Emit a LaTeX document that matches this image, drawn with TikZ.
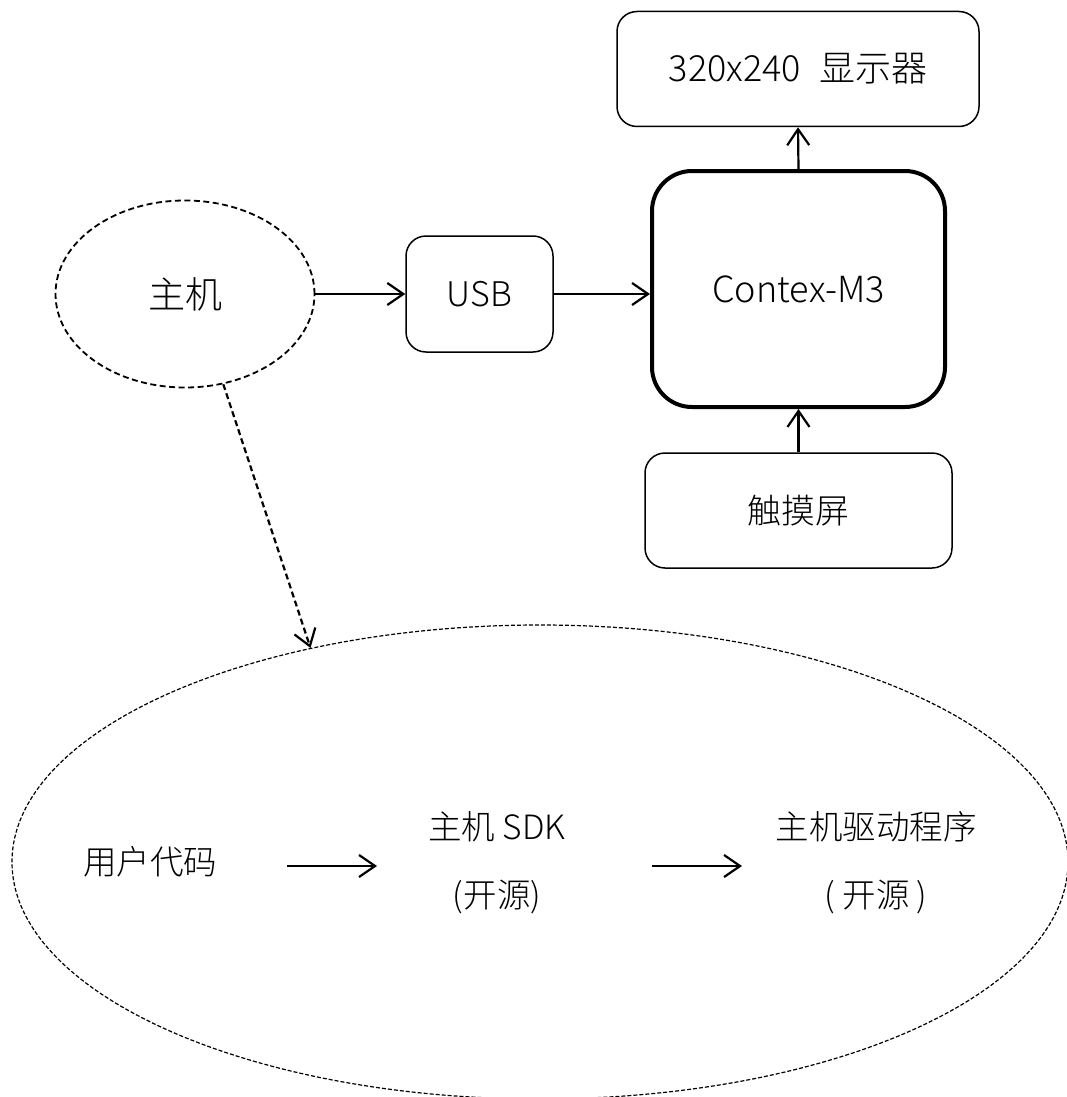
\documentclass[tikz,border=0pt]{standalone}
\usepackage{fontspec}
\IfFontExistsTF{Noto Sans CJK SC Light}{\setmainfont{Noto Sans CJK SC Light}}{\setmainfont{Noto Sans CJK SC}}
\usetikzlibrary{shapes.geometric,arrows.meta}
\begin{document}
\begin{tikzpicture}[x=1pt,y=-1pt,
  box/.style={draw, line width=1.5pt, rounded corners=20pt, inner sep=0pt},
  arr/.style={line width=2.2pt, -{Straight Barb[length=16pt,width=22pt,line width=2.2pt]}},
  lbl/.style={inner sep=0pt, align=center},
  f34/.style={font=\fontsize{34}{40}\selectfont},
  f33/.style={font=\fontsize{33.5}{70}\selectfont}]
\useasboundingbox (0,0) rectangle (1067,1097);
% boxes
\node[box, minimum width=362pt, minimum height=115pt, font=\fontsize{36}{40}\selectfont] (disp) at (798,69) {320x240\hspace{0.5em}显示器};
\node[box, line width=4pt, rounded corners=40pt, minimum width=293pt, minimum height=236pt, font=\fontsize{36}{40}\selectfont] (cm3) at (798.5,289) {Contex-M3};
\node[box, minimum width=307pt, minimum height=115pt, f34] (touch) at (798.5,510.5) {触摸屏};
\node[box, minimum width=147pt, minimum height=116pt, f34] (usb) at (479.5,294) {USB};
\node[draw, ellipse, line width=1.8pt, dash pattern=on 6pt off 3.5pt, minimum width=259pt, minimum height=187pt, inner sep=0pt, font=\fontsize{37}{40}\selectfont] (host) at (185,294) {主机};
\begin{scope}
\clip (0,0) rectangle (1067,1097);
\node[draw, ellipse, line width=1.2pt, dash pattern=on 4pt off 2pt, minimum width=1056pt, minimum height=474pt, inner sep=0pt] (big) at (540,862) {};
\end{scope}
% inner texts
\node[lbl, f33] (user) at (150,862) {用户代码};
\node[lbl, f33] (sdk) at (497,827) {主机 SDK};
\node[lbl, f33] (sdkos) at (497,897) {(开源)};
\node[lbl, f33] (drv) at (876,827) {主机驱动程序};
\node[lbl, f33] (drvos) at (876,897) {( 开源 )};
\coordinate (a1s) at (287,866);
\coordinate (a1e) at (377,866);
\coordinate (a2s) at (652,866);
\coordinate (a2e) at (742,866);
% connectors
\draw[arr] (host.east) -- (usb.west);
\draw[arr] (usb.east) -- (usb.east -| cm3.west);
\draw[arr] (cm3.north) -- (disp.south);
\draw[arr] (touch.north) -- (cm3.south);
\draw[arr, dash pattern=on 6pt off 3.5pt] (host.-67) -- (big.137);
\draw[arr] (a1s) -- (a1e);
\draw[arr] (a2s) -- (a2e);
\end{tikzpicture}
\end{document}
